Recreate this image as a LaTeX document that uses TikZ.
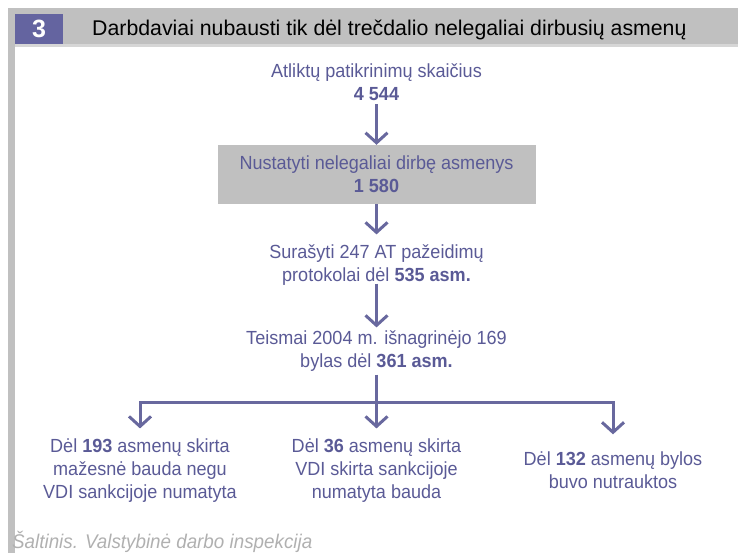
\documentclass[tikz,border=0pt]{standalone}
\usepackage{fontspec}
\setmainfont{Liberation Sans}[FakeStretch=0.95]
\newfontfamily\headfont{Liberation Sans}
\usetikzlibrary{arrows.meta,positioning}
\definecolor{ink}{RGB}{90,90,150}
\definecolor{arrowc}{RGB}{104,104,158}
\definecolor{badge}{RGB}{100,100,160}
\definecolor{band}{RGB}{192,192,192}
\definecolor{rule}{RGB}{214,214,214}
\definecolor{srcgrey}{RGB}{176,176,176}
\tikzset{
	txt/.style={
		align=center,
		text=ink,
		font=\fontsize{19}{23}\selectfont,
		inner sep=3pt,
	},
	shaded/.style={
		txt,
		fill=band,
		minimum width=318pt,
		minimum height=59pt,
	},
	link/.style={
		-{Straight Barb[length=10pt,width=22pt]},
		line width=3pt,
		draw=arrowc,
	},
	trunk/.style={
		line width=3pt,
		draw=arrowc,
	}
}

\begin{document}
\begin{tikzpicture}[x=1pt,y=-1pt]
	\useasboundingbox (0,0) rectangle (738,553);
	% header band and left strip
	\fill[band] (8,8) rectangle (738,47);
	\fill[band] (8,47) rectangle (15,553);
	\fill[rule] (15,44) rectangle (738,47);
	\node [
	  fill=badge,
	  text=white,
	  font=\headfont\bfseries\fontsize{25}{25}\selectfont,
	  minimum width=48pt,
	  minimum height=30pt,
	  inner sep=0pt
	] (num) at (39,29) {3};
	\node [
	  anchor=west,
	  inner sep=0pt,
	  font=\headfont\fontsize{21.3}{24}\selectfont
	] (title) at (92,30) {Darbdaviai nubausti tik dėl trečdalio nelegaliai dirbusių asmenų};

	% chain
	\node [txt] (checks) at (376.5,82.5) {Atliktų patikrinimų skaičius\\\textbf{4 544}};
	\node [shaded] (found) at (376.5,174.5) {Nustatyti nelegaliai dirbę asmenys\\\textbf{1 580}};
	\node [txt] (reports) at (376.5,265) {Surašyti 247 AT pažeidimų\\protokolai dėl \textbf{535 asm.}};
	\node [txt] (courts) at (376.5,351) {Teismai 2004 m. išnagrinėjo 169\\bylas dėl \textbf{361 asm.}};
	\coordinate (split) at (376.5,402);

	% outcomes
	\node [txt] (lower) at (140,470.5) {Dėl \textbf{193} asmenų skirta\\mažesnė bauda negu\\VDI sankcijoje numatyta};
	\node [txt] (fined) at (376.5,470.5) {Dėl \textbf{36} asmenų skirta\\VDI skirta sankcijoje\\numatyta bauda};
	\node [txt] (dropped) at (613,470) {Dėl \textbf{132} asmenų bylos\\buvo nutrauktos};

	\node [
	  anchor=west,
	  inner sep=0pt,
	  text=srcgrey,
	  font=\itshape\fontsize{19.8}{20}\selectfont
	] (source) at (12,542) {Šaltinis. Valstybinė darbo inspekcija};

	\draw[link] (checks) -- (found);
	\draw[link,shorten >=7pt] (found) -- (reports);
	\draw[link,shorten <=-5pt] (reports) -- (courts);
	\draw[trunk] (courts) -- (split);
	\draw[link,shorten >=7pt] (split) -| (lower);
	\draw[link,shorten >=7pt] (split) -- (fined);
	\draw[link,shorten >=14pt] (split) -| (dropped);
\end{tikzpicture}
\end{document}
